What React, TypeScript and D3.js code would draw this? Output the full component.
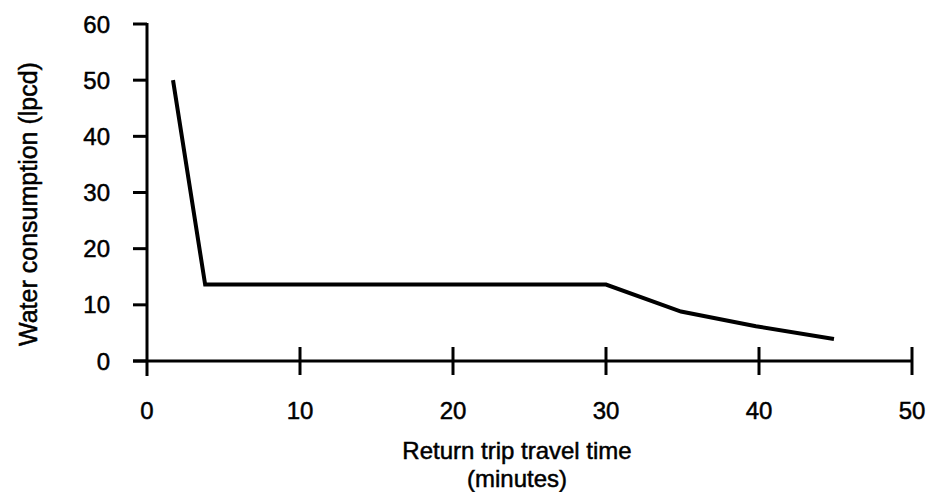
import React from 'react';
import * as d3 from 'd3';

// travel time (minutes) vs water consumption (lpcd)
const travelTime = [1.7, 3.8, 30, 34.9, 39.8, 44.9];
const consumption = [50, 13.6, 13.6, 8.8, 6.2, 3.9];
const xTicks = [0, 10, 20, 30, 40, 50];
const yTicks = [0, 10, 20, 30, 40, 50, 60];

const W = 930;
const H = 492;
const FONT = '"Liberation Sans", Arial, Helvetica, sans-serif';

const App = () => {
    const x = d3.scaleLinear().domain([0, 50]).range([147, 912]);
    const y = d3.scaleLinear().domain([0, 60]).range([361, 24]);

    const pts = travelTime.map((t, i) => [t, consumption[i]] as [number, number]);
    const line = d3.line<[number, number]>()
        .x(d => x(d[0]))
        .y(d => y(d[1]));

    // a thin stroke on the text to get the heavier look of the scan
    const txt = { fill: '#000', stroke: '#000', strokeWidth: 0.5 };

    return (
        <svg width={W} height={H} style={{ position: 'absolute', left: 0, top: 0, background: '#fff' }}
            fontFamily={FONT}>
            {/* y axis */}
            <line x1={x(0)} x2={x(0)} y1={y(60) - 1} y2={y(0) + 15} stroke="#000" strokeWidth={3} />
            {yTicks.map(t => (
                <g key={'y' + t}>
                    <line x1={x(0) - 14} x2={x(0)} y1={y(t)} y2={y(t)} stroke="#000" strokeWidth={3} />
                    <text x={x(0) - 37} y={y(t)} dy="0.36em" textAnchor="end" fontSize={24} {...txt}>{t}</text>
                </g>
            ))}
            {/* x axis */}
            <line x1={x(0) - 14} x2={x(50) + 1} y1={y(0)} y2={y(0)} stroke="#000" strokeWidth={3} />
            {xTicks.map(t => (
                <g key={'x' + t}>
                    {t > 0 && <line x1={x(t)} x2={x(t)} y1={y(0) - 14} y2={y(0) + 14} stroke="#000" strokeWidth={3} />}
                    <text x={x(t)} y={419} textAnchor="middle" fontSize={24} {...txt}>{t}</text>
                </g>
            ))}
            <path d={line(pts) || ''} fill="none" stroke="#000" strokeWidth={4} strokeLinejoin="miter" />
            <text transform="translate(37,204) rotate(-90)" textAnchor="middle" fontSize={25} {...txt}>
                Water consumption (lpcd)
            </text>
            <text x={517} y={459} textAnchor="middle" fontSize={24} {...txt}>Return trip travel time</text>
            <text x={517} y={487} textAnchor="middle" fontSize={24} {...txt}>(minutes)</text>
        </svg>
    );
};

export default App;
